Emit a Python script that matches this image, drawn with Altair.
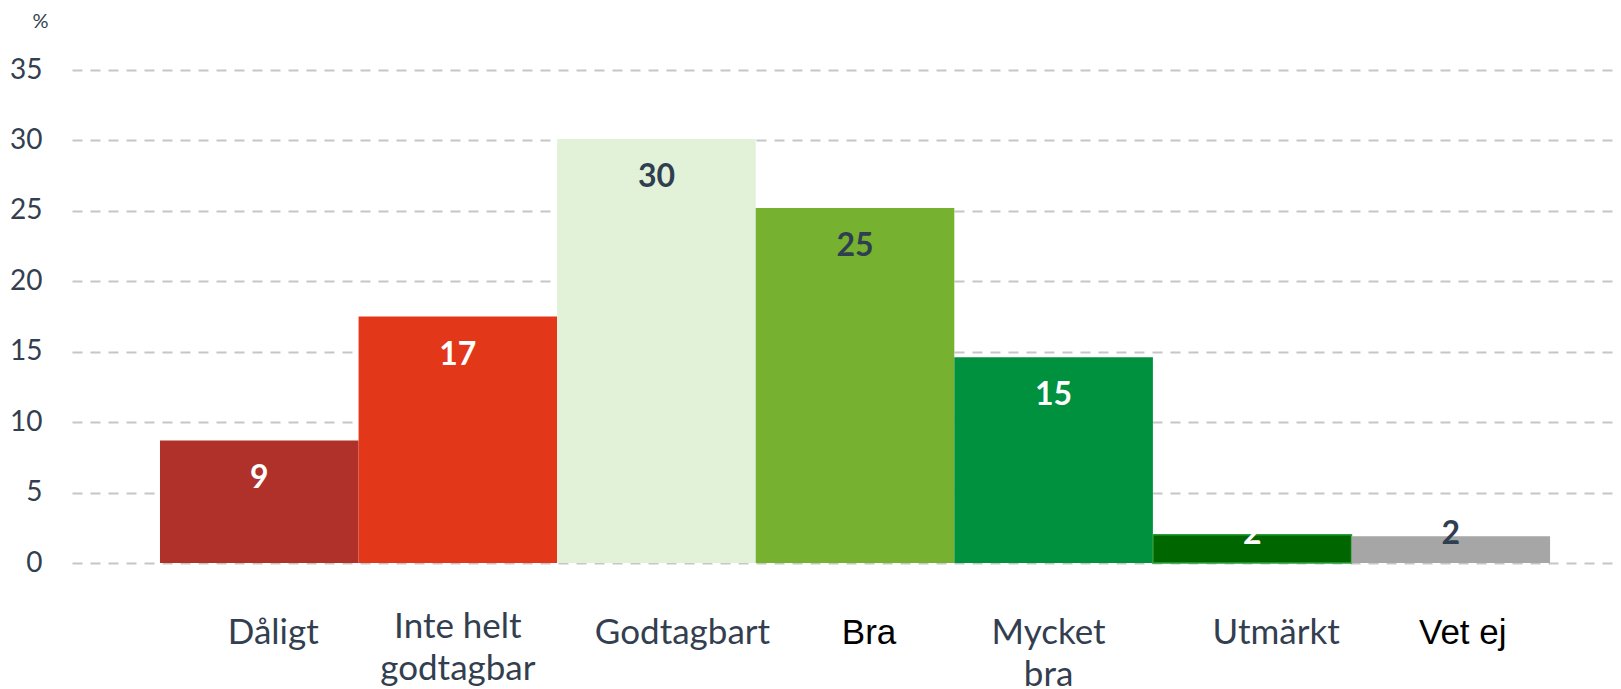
import altair as alt
import pandas as pd

categories = ["Dåligt", "Inte helt godtagbar", "Godtagbart", "Bra", "Mycket bra", "Utmärkt", "Vet ej"]
values = [8.7, 17.5, 30.1, 25.2, 14.6, 2.0, 1.9]
labels = ["9", "17", "30", "25", "15", "2", "2"]
y_ticks = [0, 5, 10, 15, 20, 25, 30, 35]

bar_colors = ["#B0302A", "#E3371A", "#E2F2D8", "#76B22F", "#00913F", "#006600", "#A6A6A6"]
text_colors = ["white", "white", "#2F3E50", "#2F3E50", "white", "white", "#2F3E50"]

df = pd.DataFrame({"cat": categories, "value": values, "label": labels, "tcolor": text_colors})

DARK = "#333F50"

x_axis = alt.Axis(
    title=None,
    domain=False,
    ticks=False,
    tickSize=0,
    grid=False,
    labelAngle=0,
    labelBaseline="top",
    labelFontSize=35,
    labelLineHeight=42,
    labelLimit=0,
    labelOverlap=False,
    labelBound=False,
    labelPadding={"expr": "datum.value == 'Inte helt godtagbar' ? 46 : 52"},
    labelOffset={"expr": "datum.value == 'Dåligt' ? 14 : datum.value == 'Godtagbart' ? 26 : datum.value == 'Bra' ? 14 : datum.value == 'Mycket bra' ? -5 : datum.value == 'Utmärkt' ? 24 : datum.value == 'Vet ej' ? 12 : 0"},
    labelFont={"expr": "(datum.value == 'Bra' || datum.value == 'Vet ej') ? 'Liberation Sans' : 'Lato'"},
    labelColor={"expr": "(datum.value == 'Bra' || datum.value == 'Vet ej') ? 'black' : '" + DARK + "'"},
    labelExpr="datum.label == 'Inte helt godtagbar' ? ['Inte helt', 'godtagbar'] : datum.label == 'Mycket bra' ? ['Mycket', 'bra'] : datum.label",
)

y_axis = alt.Axis(
    values=y_ticks,
    title="%",
    titleAngle=0,
    titleX=-32,
    titleY=-43,
    titleAlign="center",
    titleBaseline="alphabetic",
    titleFont="Lato",
    titleFontSize=20,
    titleFontWeight="normal",
    titleColor=DARK,
    grid=True,
    gridDash=[10, 8],
    gridColor="#C6C6C6",
    gridWidth=2,
    domain=False,
    ticks=False,
    labelPadding=30,
    labelFont="Lato",
    labelFontSize=28,
    labelColor=DARK,
)

x = alt.X("cat:N", sort=categories,
          scale=alt.Scale(paddingInner=0, paddingOuter=0.38, align=0.583),
          axis=x_axis)
y = alt.Y("value:Q", scale=alt.Scale(domain=[0, 35], nice=False), axis=y_axis)

bars = alt.Chart(df).mark_bar().encode(
    x=x,
    y=y,
    color=alt.Color("cat:N", scale=alt.Scale(domain=categories, range=bar_colors), legend=None),
    stroke=alt.condition(alt.datum.cat == "Utmärkt", alt.value("#2E9E3A"), alt.value("transparent")),
    strokeWidth=alt.value(1.5),
)

texts = alt.Chart(df).transform_calculate(
    labY="datum.value > 5 ? datum.value : 4.75"
).mark_text(font="Lato", fontWeight="bold", fontSize=32, baseline="middle", dy=38).encode(
    x=alt.X("cat:N", sort=categories),
    y=alt.Y("labY:Q"),
    text="label:N",
    color=alt.Color("tcolor:N", scale=None),
)

chart = alt.layer(bars, texts).properties(
    width=1541,
    height=493,
    autosize=alt.AutoSizeParams(type="none"),
    padding={"left": 64, "top": 62, "right": 0, "bottom": 126},
    background="white",
).configure_view(stroke=None)

chart.save("out.html", embed_options={"renderer": "svg", "actions": False})
